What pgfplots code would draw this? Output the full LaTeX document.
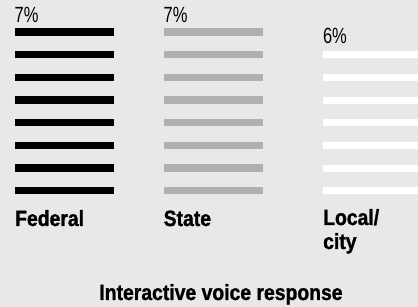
\documentclass[border=0pt]{standalone}
\usepackage{pgfplots}
\pgfplotsset{compat=1.18}
\usepackage{fontspec}
\setmainfont{Liberation Sans}
\newfontfamily\labfont[FakeStretch=0.88,FakeBold=1.2]{Liberation Sans}
\newfontfamily\numfont[FakeStretch=0.75]{Liberation Sans}
\definecolor{bgc}{HTML}{E8E8E8}
\definecolor{graybar}{HTML}{B0B0B0}
\begin{document}
\begin{tikzpicture}
\path[use as bounding box, fill=bgc] (0pt,0pt) rectangle (418pt,307pt);
\begin{axis}[at={(0pt,0pt)}, anchor=south west, scale only axis,
  width=418pt, height=307pt, xmin=0, xmax=418, ymin=-5.13, ymax=8.412,
  hide axis, clip=true]
% Federal: 7%
\addplot[draw=none, mark=none, error bars/.cd, x dir=both, x fixed=49.5,
  error mark=none, error bar style={draw=black, line width=7.6pt}]
  coordinates {(64.5,0) (64.5,1) (64.5,2) (64.5,3) (64.5,4) (64.5,5) (64.5,6) (64.5,7)};
% State: 7%
\addplot[draw=none, mark=none, error bars/.cd, x dir=both, x fixed=49.5,
  error mark=none, error bar style={draw=graybar, line width=7.6pt}]
  coordinates {(213.5,0) (213.5,1) (213.5,2) (213.5,3) (213.5,4) (213.5,5) (213.5,6) (213.5,7)};
% Local/city: 6%
\addplot[draw=none, mark=none, error bars/.cd, x dir=both, x fixed=49.5,
  error mark=none, error bar style={draw=white, line width=7pt}]
  coordinates {(372.8,0) (372.8,1) (372.8,2) (372.8,3) (372.8,4) (372.8,5) (372.8,6)};
\end{axis}
\node[anchor=base west, inner sep=0pt, font={\numfont\fontsize{22}{24}\selectfont}] at (14.5pt,284.3pt) {7\%};
\node[anchor=base west, inner sep=0pt, font={\numfont\fontsize{22}{24}\selectfont}] at (163.5pt,284.3pt) {7\%};
\node[anchor=base west, inner sep=0pt, font={\numfont\fontsize{22}{24}\selectfont}] at (322.8pt,263.7pt) {6\%};
\node[anchor=base west, inner sep=0pt, font={\labfont\bfseries\fontsize{22}{24}\selectfont}] at (15pt,81pt) {Federal};
\node[anchor=base west, inner sep=0pt, font={\labfont\bfseries\fontsize{22}{24}\selectfont}] at (163.5pt,81pt) {State};
\node[anchor=base west, inner sep=0pt, font={\labfont\bfseries\fontsize{22}{24}\selectfont}] at (323pt,82pt) {Local/};
\node[anchor=base west, inner sep=0pt, font={\labfont\bfseries\fontsize{22}{24}\selectfont}] at (323pt,58pt) {city};
\node[anchor=base, inner sep=0pt, font={\labfont\bfseries\fontsize{22}{24}\selectfont}] at (221pt,7pt) {Interactive voice response};
\end{tikzpicture}
\end{document}
